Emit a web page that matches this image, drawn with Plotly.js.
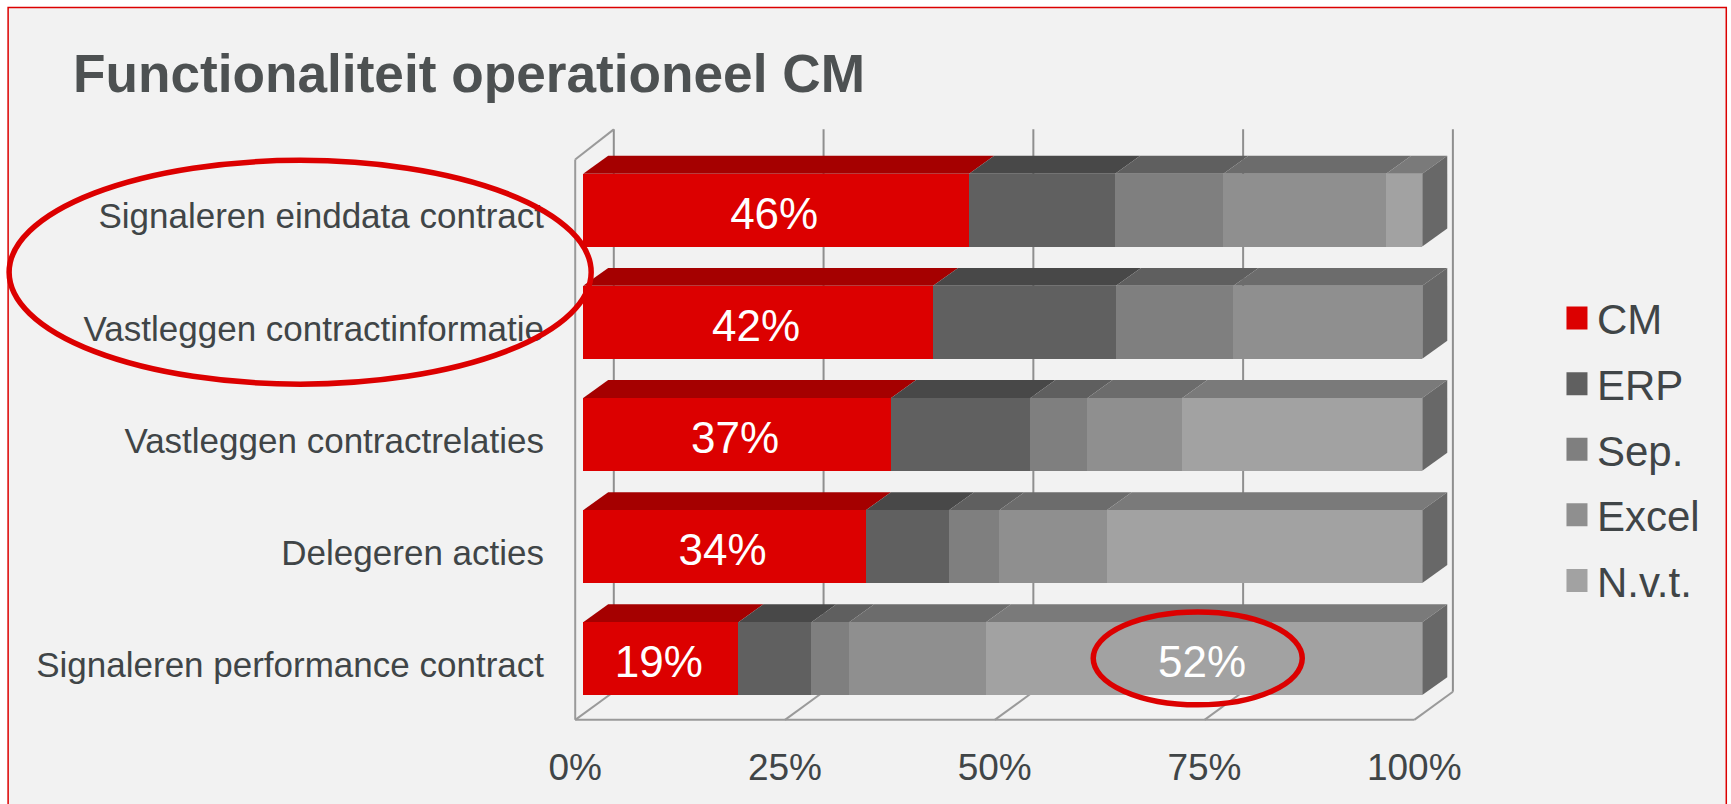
<!DOCTYPE html>
<html><head><meta charset="utf-8">
<script src="https://cdn.plot.ly/plotly-3.0.1.min.js"></script>
<style>html,body{margin:0;padding:0;background:#fff}#c{width:1731px;height:804px}</style>
</head><body><div id="c"></div>
<script>
const categories = ['Signaleren einddata contract','Vastleggen contractinformatie','Vastleggen contractrelaties','Delegeren acties','Signaleren performance contract'];
const seriesNames = ['CM','ERP','Sep.','Excel','N.v.t.'];
const cm    = [46, 41.7, 36.7, 33.7, 18.5];
const erp   = [17.4, 21.8, 16.6, 9.9, 8.7];
const sep   = [12.9, 14, 6.8, 6, 4.5];
const excel = [19.4, 22.5, 11.3, 12.8, 16.3];
const nvt   = [4.3, 0, 28.6, 37.6, 52];
const cmLabels  = ['46%','42%','37%','34%','19%'];
const nvtLabels = ['','','','','52%'];
const xTicks = [0,25,50,75,100];
const xTickText = ['0%','25%','50%','75%','100%'];
const faceColors = ['#DC0000','#606060','#7F7F7F','#8F8F8F','#A2A2A2'];
const topColors  = ['#A50000','#484848','#5F5F5F','#6C6C6C','#7A7A7A'];
const sideColor = '#686868';
const values = [cm,erp,sep,excel,nvt];
const labels = [cmLabels,null,null,null,nvtLabels];

// 3D look, in axis units
const barGap = 0.351, hh = (1-barGap)/2, depthX = 2.98, depthY = 0.16;
const floorX = -0.95, wallX = 4.6, floorY = 4.545, backFloorY = 4.295, frontTopY = -0.452, backTopY = -0.72;
const wall = '#9A9A9A', grid = '#8F8F8F';

const plotL = 557.83, plotW = 922.9, plotT = 125.6, plotH = 600.6;
const px = v => (v-plotL)/plotW, py = v => 1-(v-plotT)/plotH;

const shapes = [];
shapes.push({type:'rect',xref:'paper',yref:'paper',x0:px(8),x1:px(1726),y0:py(7),y1:py(830),fillcolor:'#F2F2F2',line:{color:'#DC0000',width:1.5},layer:'below'});
const line = (x0,y0,x1,y1,c)=>shapes.push({type:'line',xref:'x',yref:'y',x0,y0,x1,y1,line:{color:c,width:2},layer:'below'});
xTicks.forEach(t=>{
  line(floorX+wallX+t,backTopY,floorX+wallX+t,backFloorY,grid);
  line(floorX+t,floorY,floorX+wallX+t,backFloorY,wall);
});
line(floorX,frontTopY,floorX,floorY,wall);
line(floorX,frontTopY,floorX+wallX,backTopY,wall);
line(floorX,floorY,floorX+100,floorY,wall);

categories.forEach((c,i)=>{
  let acc = 0;
  const yT = i-hh, yB = i+hh;
  values.forEach((s,k)=>{
    const a = acc, b = acc+s[i]; acc = b;
    if(s[i]<=0) return;
    shapes.push({type:'path',xref:'x',yref:'y',layer:'below',line:{width:0},fillcolor:topColors[k],
      path:`M${a},${yT}L${a+depthX},${yT-depthY}L${b+depthX},${yT-depthY}L${b},${yT}Z`});
  });
  shapes.push({type:'path',xref:'x',yref:'y',layer:'below',line:{width:0},fillcolor:sideColor,
    path:`M${acc},${yT}L${acc+depthX},${yT-depthY}L${acc+depthX},${yB-depthY}L${acc},${yB}Z`});
});
// hand-drawn emphasis ellipses
const ell = (l,r,t,b)=>shapes.push({type:'circle',xref:'paper',yref:'paper',x0:px(l),x1:px(r),y0:py(t),y1:py(b),line:{color:'#DC0000',width:5.5},layer:'above'});
ell(9,591,160,384);
ell(1093,1302,612,705);

const traces = seriesNames.map((n,k)=>({
  type:'bar',orientation:'h',name:n,y:categories,x:values[k],legendgroup:n,
  marker:{color:faceColors[k],line:{width:0}},
  text:labels[k]||undefined,textposition:labels[k]?'inside':'none',insidetextanchor:'middle',textangle:0,
  insidetextfont:{family:'Liberation Sans',size:44,color:'#fff'},constraintext:'none',
  hoverinfo:'x+y+name'
}));

const layout = {
  width:1731,height:804,autosize:false,
  paper_bgcolor:'#fff',plot_bgcolor:'rgba(0,0,0,0)',
  margin:{l:plotL,r:1731-plotL-plotW,t:plotT,b:804-plotT-plotH,pad:0},
  barmode:'stack',bargap:barGap,showlegend:true,
  title:{text:'<b>Functionaliteit operationeel CM</b>',x:73/1731,xanchor:'left',y:1-73/804,yanchor:'middle',
    font:{family:'Liberation Sans',size:53.2,color:'#4D5152'}},
  xaxis:{range:[-3,107],tickvals:xTicks,ticktext:xTickText,showgrid:false,zeroline:false,showline:false,ticks:'',
    ticklabelshift:-8,ticklabelstandoff:16,tickfont:{family:'Liberation Sans',size:37,color:'#404547'},automargin:false,fixedrange:true},
  yaxis:{type:'category',categoryorder:'array',categoryarray:categories,range:[4.6,-0.75],showgrid:false,zeroline:false,showline:false,ticks:'',
    ticklabelstandoff:13,ticklabelshift:-6,tickfont:{family:'Liberation Sans',size:35,color:'#404547'},automargin:false,fixedrange:true},
  legend:{x:px(1556.7),xanchor:'left',y:py(284),yanchor:'top',traceorder:'grouped',tracegroupgap:8,itemwidth:30,itemclick:false,itemdoubleclick:false,
    bgcolor:'rgba(0,0,0,0)',font:{family:'Liberation Sans',size:42,color:'#404547'}},
  shapes
};
Plotly.newPlot('c',traces,layout,{displayModeBar:false,staticPlot:false}).then(gd=>{
  gd.querySelectorAll('.legend .legendpoints path').forEach(p=>p.setAttribute('d','M10.5,11.5H-10.5V-11.5H10.5Z'));
  gd.querySelectorAll('.barlayer text.bartext').forEach(t=>{
    t.setAttribute('transform','translate(-2,3) '+(t.getAttribute('transform')||''));
  });
});
</script></body></html>
